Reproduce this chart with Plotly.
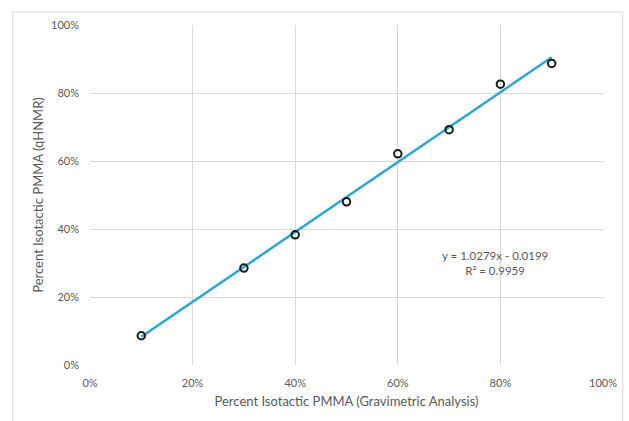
import plotly.graph_objects as go

# Gravimetric vs. qHNMR isotactic content (fractions)
grav = [0.1, 0.3, 0.4, 0.5, 0.6, 0.7, 0.8, 0.9]
qhnmr = [0.086, 0.285, 0.383, 0.480, 0.621, 0.692, 0.826, 0.887]

# Linear trendline coefficients
slope = 1.0279
intercept = -0.0199
r_squared = 0.9959

tick_vals = [0, 0.2, 0.4, 0.6, 0.8, 1.0]
tick_text = ["0%", "20%", "40%", "60%", "80%", "100%"]

FONT = "Lato"
GRAY = "#595959"
GRID = "#d9d9d9"

fit_x = [min(grav), max(grav)]
fit_y = [slope * x + intercept for x in fit_x]

fig = go.Figure()
fig.add_trace(go.Scatter(
    x=fit_x, y=fit_y, mode="lines",
    line=dict(color="#2aa7d5", width=2.5),
    showlegend=False, hoverinfo="skip",
))
fig.add_trace(go.Scatter(
    x=grav, y=qhnmr, mode="markers",
    marker=dict(symbol="circle-open", size=7.5, color="#1a1a1a",
                line=dict(width=2, color="#1a1a1a")),
    showlegend=False,
))

fig.add_annotation(
    x=0.79, y=0.30, xref="x", yref="y",
    text=f"y = {slope}x - {abs(intercept)}<br>R\u00b2 = {r_squared}",
    showarrow=False, align="center",
    font=dict(family=FONT, size=11.5, color=GRAY),
)

# Chart-area frame
fig.add_shape(
    type="rect", xref="paper", yref="paper",
    x0=(12 - 90) / 518, x1=(628 - 90) / 518,
    y0=-(421 - 365 + 10) / 340, y1=1 + (25 - 12) / 340,
    line=dict(color="#d9d9d9", width=1), fillcolor="rgba(0,0,0,0)",
    layer="below",
)

axis_common = dict(
    range=[0, 1], tickvals=tick_vals, ticktext=tick_text,
    showgrid=True, gridcolor=GRID, gridwidth=1,
    zeroline=False, showline=False, ticks="",
    tickfont=dict(family=FONT, size=11, color=GRAY),
    fixedrange=True,
)

fig.update_layout(
    width=629, height=421,
    margin=dict(l=90, r=21, t=25, b=56),
    paper_bgcolor="white", plot_bgcolor="white",
    xaxis=dict(**axis_common, ticklabelstandoff=10,
               title=dict(text="Percent Isotactic PMMA (Gravimetric Analysis)",
                          font=dict(family=FONT, size=13, color=GRAY),
                          standoff=8)),
    yaxis=dict(**axis_common, ticklabelstandoff=10,
               title=dict(text="Percent Isotactic PMMA (qHNMR)",
                          font=dict(family=FONT, size=13, color=GRAY),
                          standoff=4)),
)

fig.write_html("out.html")
